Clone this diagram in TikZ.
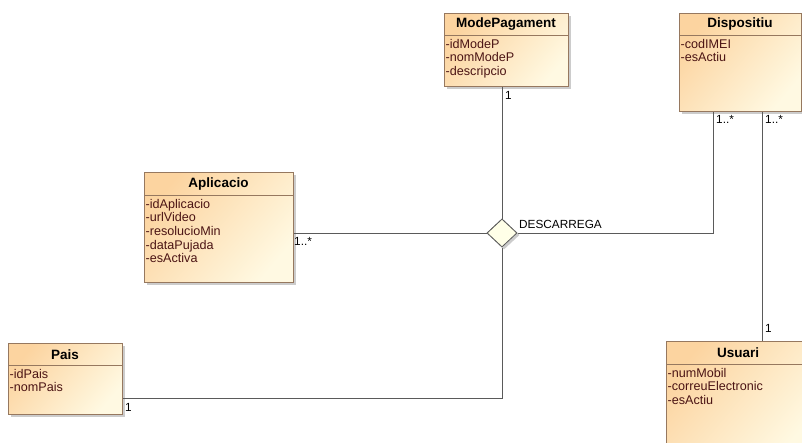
\documentclass[tikz,border=0pt]{standalone}
\usepackage{fontspec}
\setmainfont{Liberation Sans}
\usetikzlibrary{calc,shapes.geometric}
\definecolor{boxborder}{RGB}{150,120,95}
\definecolor{fillA}{RGB}{252,212,160}
\definecolor{fillB}{RGB}{255,249,226}
\definecolor{attrcol}{RGB}{75,20,20}
\definecolor{linecol}{RGB}{90,90,90}
\definecolor{diafill}{RGB}{255,255,232}
\tikzset{
  classbox/.style={draw=boxborder, line width=0.8pt, inner sep=0pt, rectangle,
    top color=fillA, bottom color=fillB, shading angle=50},
  shadowbox/.style={fill=black!20, draw=none},
  titletext/.style={font=\fontsize{13.5}{15}\selectfont\bfseries, inner sep=0pt, text=black},
  attrtext/.style={font=\fontsize{12.6}{13.6}\selectfont, inner sep=0pt, align=left, text=attrcol, anchor=north west},
  conn/.style={draw=linecol, line width=0.8pt},
  mult/.style={font=\fontsize{11.8}{13}\selectfont, inner sep=0pt, text=black},
  sepline/.style={draw=boxborder, line width=0.8pt}
}
\newcommand\umlclass[8]{%
  % #1 name, #2 x1, #3 y1, #4 x2, #5 y2, #6 ysep, #7 title, #8 attrs
  \fill[shadowbox] (#2+3,#3+3) rectangle (#4+3,#5+3);
  \node[classbox, anchor=north west, minimum width={(#4-#2)*1pt}, minimum height={(#5-#3)*1pt}] (#1) at (#2,#3) {};
  \draw[sepline] (#2,#6) -- (#4,#6);
  \node[titletext] (#1-title) at ({(#2+#4)/2},{(#3+#6)/2+0.5}) {#7};
  \node[attrtext] (#1-attrs) at (#2+1.5,#6+4) {#8};
}
\begin{document}
\begin{tikzpicture}[x=1pt,y=-1pt]
\useasboundingbox (0,0) rectangle (802,442);
\clip (0,0) rectangle (802,442);

\node[diamond, draw=linecol, fill=diafill, line width=0.8pt, minimum width=30pt, minimum height=28pt, inner sep=0pt] (dia) at (502,233) {};

\umlclass{modep}{444}{13}{568}{86}{35}{ModePagament}{-idModeP\\-nomModeP\\-descripcio}
\umlclass{disp}{679}{13}{801}{111}{35}{Dispositiu}{-codIMEI\\-esActiu}
\umlclass{aplic}{144}{172}{293}{282}{195}{Aplicacio}{-idAplicacio\\-urlVideo\\-resolucioMin\\-dataPujada\\-esActiva}
\umlclass{pais}{8}{343}{122}{414}{365}{Pais}{-idPais\\-nomPais}
\umlclass{usuari}{666}{341}{810}{460}{364}{Usuari}{-numMobil\\-correuElectronic\\-esActiu}

\coordinate (d1) at ([xshift=34pt]disp.south west);
\coordinate (d2) at ([xshift=-39pt]disp.south east);
\coordinate (p1) at ([yshift=16pt]pais.south east);

\draw[conn] (dia.north |- modep.south) -- (dia.north);
\draw[conn] (dia.west) -- (dia.west -| aplic.east);
\draw[conn] (dia.east) -| (d1);
\draw[conn] (dia.south) |- (p1);
\draw[conn] (d2) -- (d2 |- usuari.north);

\fill[black!20] ([xshift=2pt,yshift=-2pt]dia.north) -- ([xshift=2pt,yshift=-2pt]dia.east) -- ([xshift=2pt,yshift=-2pt]dia.south) -- ([xshift=2pt,yshift=-2pt]dia.west) -- cycle;
\node[diamond, draw=linecol, fill=diafill, line width=0.8pt, minimum width=30pt, minimum height=28pt, inner sep=0pt] (dia2) at (dia) {};

\node[mult, anchor=north west] (m1) at (505,91) {1};
\node[mult, anchor=north west] (m2) at (716,115) {1..*};
\node[mult, anchor=north west] (m3) at (765,115) {1..*};
\node[mult, anchor=north west] (m4) at (294,237) {1..*};
\node[mult, anchor=north west] (m5) at (125,403) {1};
\node[mult, anchor=north west] (m6) at (765,324) {1};
\node[mult, anchor=west] (lbl) at (519,224) {DESCARREGA};
\end{tikzpicture}
\end{document}
